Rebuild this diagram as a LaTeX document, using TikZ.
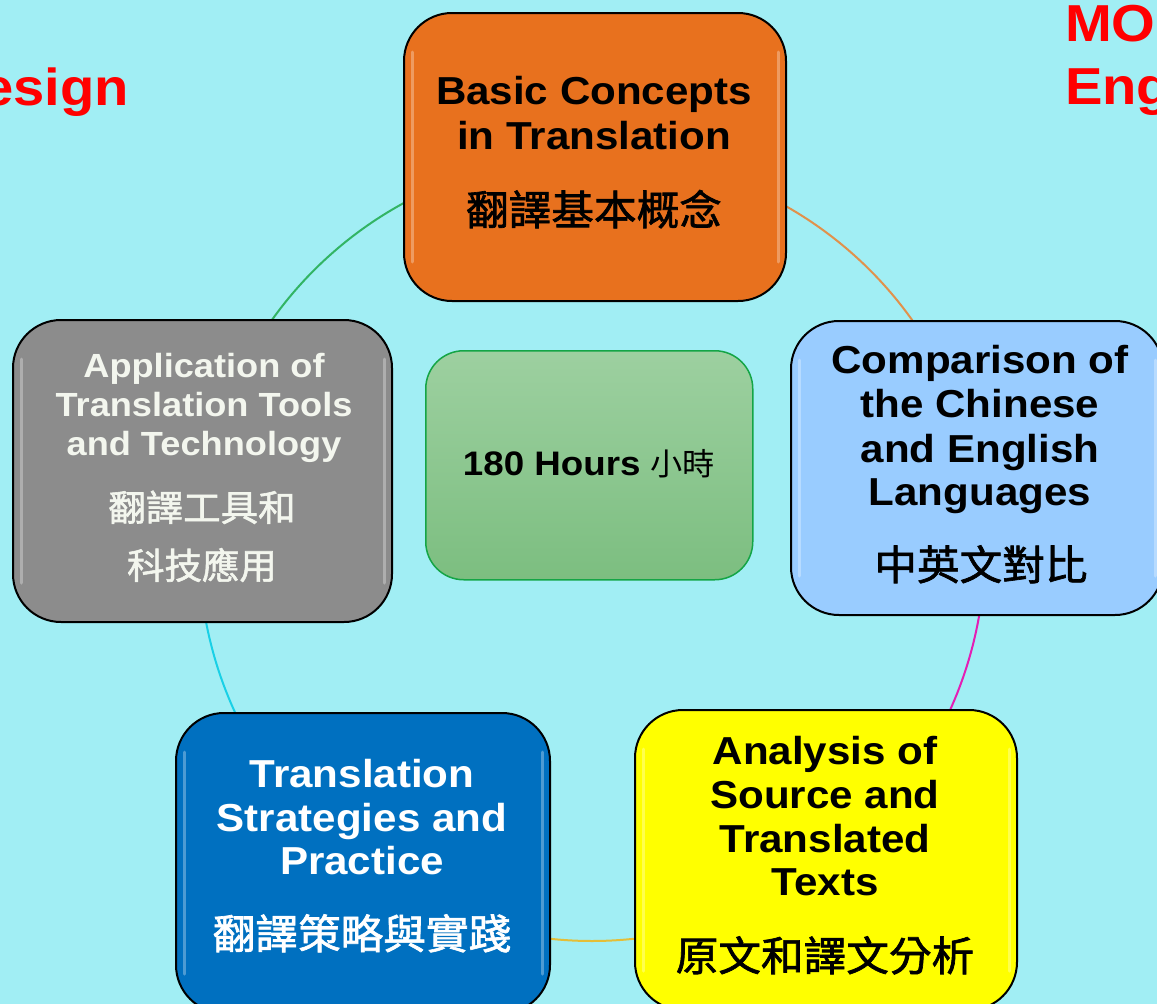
\documentclass[tikz,border=0pt]{standalone}
\usepackage{fontspec}
\setmainfont{Liberation Sans}[FakeStretch=1.08]
\newfontfamily\cjk{Noto Sans CJK TC}[FakeStretch=1.04]
\newfontfamily\cjkmid{Noto Sans CJK TC}[FakeStretch=1.04, FakeBold=1.6]
\definecolor{bg}{RGB}{161,238,244}
\definecolor{orangebox}{RGB}{232,113,30}
\definecolor{lightblue}{RGB}{153,204,255}
\definecolor{graybox}{RGB}{140,140,140}
\definecolor{darkblue}{RGB}{0,112,192}
\definecolor{yellowbox}{RGB}{255,255,0}
\definecolor{greentop}{RGB}{157,208,160}
\definecolor{greenbot}{RGB}{124,190,128}
\definecolor{greenline}{RGB}{20,165,70}
\definecolor{graytext}{RGB}{243,246,238}
\definecolor{arcgreen}{RGB}{50,180,100}
\definecolor{arcorange}{RGB}{225,145,75}
\definecolor{arcmagenta}{RGB}{228,30,180}
\definecolor{arcyellow}{RGB}{228,190,55}
\definecolor{arccyan}{RGB}{25,208,230}
\definecolor{redtext}{RGB}{255,0,0}
\tikzset{
  box/.style={draw=black, line width=2pt, rounded corners=48pt, inner sep=0pt, anchor=north west},
  gloss/.style={draw=white, draw opacity=.3, line width=3pt, line cap=round},
  conn/.style={line width=2pt},
  en/.style={anchor=base, inner sep=0pt, font=\bfseries\fontsize{39}{44}\selectfont},
  ensmall/.style={anchor=base, inner sep=0pt, font=\bfseries\fontsize{33.5}{40}\selectfont},
  zh/.style={anchor=base, inner sep=0pt, font=\cjkmid\fontsize{41}{48}\selectfont},
  zhsmall/.style={anchor=base, inner sep=0pt, font=\cjkmid\fontsize{36}{44}\selectfont},
  red/.style={inner sep=0pt, text=redtext, font=\bfseries\fontsize{52}{60}\selectfont},
}
\newcommand\glossof[1]{%
  \draw[gloss] ([shift={(9pt,-40pt)}]#1.north west) -- ([shift={(9pt,40pt)}]#1.south west);
  \draw[gloss] ([shift={(-9pt,-40pt)}]#1.north east) -- ([shift={(-9pt,40pt)}]#1.south east);}
\begin{document}
\begin{tikzpicture}[x=1pt,y=1pt]
\clip (0,0) rectangle (1157,-1004);
\fill[bg] (0,0) rectangle (1157,-1004);

% cycle arcs (drawn first, boxes cover their ends)
\coordinate (O) at (592,-548);
\coordinate (g1) at ([shift={(116:393)}]O);
\coordinate (o1) at ([shift={(64:393)}]O);
\coordinate (m1) at ([shift={(-7:393)}]O);
\coordinate (y1) at ([shift={(-81:393)}]O);
\coordinate (c1) at ([shift={(-152:393)}]O);
\draw[conn, arcgreen]   (g1) arc[start angle=116, end angle=148, radius=393];
\draw[conn, arcorange]  (o1) arc[start angle=64, end angle=32, radius=393];
\draw[conn, arcmagenta] (m1) arc[start angle=-7, end angle=-27, radius=393];
\draw[conn, arcyellow]  (y1) arc[start angle=-81, end angle=-99, radius=393];
\draw[conn, arccyan]    (c1) arc[start angle=-152, end angle=-172, radius=393];

% boxes
\node[box, fill=orangebox, minimum width=382pt, minimum height=288pt] (b1) at (403,-12) {};
\node[box, fill=lightblue, minimum width=372pt, minimum height=294pt] (b2) at (790,-320) {};
\node[box, fill=graybox, minimum width=379pt, minimum height=302pt] (b3) at (12,-319) {};
\node[box, fill=darkblue, minimum width=374pt, minimum height=300pt] (b4) at (175,-712) {};
\node[box, fill=yellowbox, minimum width=382pt, minimum height=300pt] (b5) at (634,-709) {};
\glossof{b1}\glossof{b2}\glossof{b3}\glossof{b4}\glossof{b5}
\node[draw=greenline, line width=1.5pt, rounded corners=38pt, top color=greentop, bottom color=greenbot,
      minimum width=327pt, minimum height=229pt, anchor=north west, inner sep=0pt] (b6) at (425,-350) {};

% orange
\node[en] (t1a) at (594,-104) {Basic Concepts};
\node[en] (t1b) at (594,-149) {in Translation};
\node[zh] (z1) at (594,-225) {翻譯基本概念};
% light blue
\node[en] (t2a) at (980,-373) {Comparison of};
\node[en] (t2b) at (980,-417) {the Chinese};
\node[en] (t2c) at (980,-462) {and English};
\node[en] (t2d) at (980,-505) {Languages};
\node[zh] (z2) at (981,-580) {中英文對比};
% gray
\node[ensmall, text=graytext] (t3a) at (204,-377) {Application of};
\node[ensmall, text=graytext] (t3b) at (204,-416) {Translation Tools};
\node[ensmall, text=graytext] (t3c) at (204,-455) {and Technology};
\node[zhsmall, text=graytext] (z3a) at (202,-521) {翻譯工具和};
\node[zhsmall, text=graytext] (z3b) at (202,-579) {科技應用};
% dark blue
\node[en, text=white] (t4a) at (362,-787) {Translation};
\node[en, text=white] (t4b) at (362,-831) {Strategies and};
\node[en, text=white] (t4c) at (362,-874) {Practice};
\node[zh, text=white] (z4) at (362,-949) {翻譯策略與實踐};
% yellow
\node[en] (t5a) at (825,-764) {Analysis of};
\node[en] (t5b) at (825,-808) {Source and};
\node[en] (t5c) at (825,-852) {Translated};
\node[en] (t5d) at (825,-895) {Texts};
\node[zh] (z5) at (825,-971) {原文和譯文分析};
% centre
\node[anchor=base, inner sep=0pt] (t6) at (589,-475)
  {{\bfseries\fontsize{34}{40}\selectfont 180 Hours}\hspace{10pt}{\cjk\fontsize{31}{40}\selectfont 小時}};

% red titles
\node[red, anchor=base east] (r1) at (129,-105) {esign};
\node[red, anchor=base west] (r2) at (1065,-41) {MO};
\node[red, anchor=base west] (r3) at (1065,-104) {Eng};
\end{tikzpicture}
\end{document}
